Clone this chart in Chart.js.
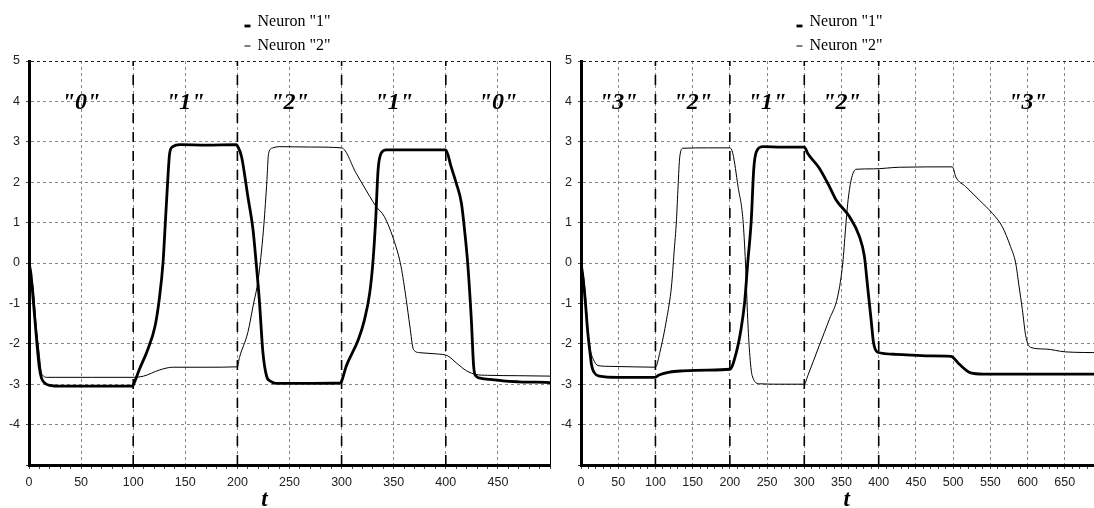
<!DOCTYPE html>
<html>
<head>
<meta charset="utf-8">
<script src="https://cdn.jsdelivr.net/npm/chart.js@4"></script>
<style>
  html, body { margin: 0; padding: 0; background: #fff; overflow: hidden; }
  #wrap { position: relative; width: 1094px; height: 508px; overflow: hidden; }
  #left { position: absolute; left: 0; top: 0; }
  #right { position: absolute; left: 552px; top: 0; }
</style>
</head>
<body>
<div id="wrap">
  <canvas id="left" width="556" height="508"></canvas>
  <canvas id="right" width="556" height="508"></canvas>
</div>
<script>
// ---- data ----
// left panel
var leftN1T = [0, 2, 4, 6, 8, 10, 12, 15, 20, 30, 60, 99, 100, 106, 114, 121, 125, 128.6, 131, 133, 135, 138, 145, 170, 199, 200, 204, 210, 215, 218, 221, 224.5, 228, 232, 237, 260, 299, 300, 304.5, 316, 322, 327, 330, 332.7, 335, 338, 343, 370, 400, 405, 410, 415, 418, 421, 424.5, 426.7, 429, 435, 442, 455, 470, 487, 500];
var leftN1V = [0, -0.3, -0.9, -1.5, -2.1, -2.6, -2.85, -2.97, -3.03, -3.05, -3.05, -3.05, -3.02, -2.63, -2.14, -1.56, -0.9, 0, 1.07, 1.98, 2.72, 2.88, 2.93, 2.92, 2.93, 2.9, 2.63, 1.65, 0.82, 0, -0.9, -2.22, -2.8, -2.93, -2.98, -2.98, -2.97, -2.93, -2.55, -1.9, -1.4, -0.74, 0, 1.07, 2.3, 2.72, 2.8, 2.8, 2.8, 2.39, 1.98, 1.48, 0.82, 0, -1.4, -2.55, -2.8, -2.86, -2.88, -2.92, -2.94, -2.95, -2.96];
var leftN2T = [0, 2, 4, 7, 9.6, 11.8, 14, 17, 25, 60, 99, 110, 125, 138, 170, 200, 202, 210, 215, 220, 225, 228, 230, 234, 240, 270, 300, 314, 327, 333, 341, 351, 357, 362, 365.5, 369, 375, 391, 402, 410, 420, 429, 440, 470, 500];
var leftN2V = [0, -0.4, -0.6, -1.6, -2.2, -2.7, -2.8, -2.83, -2.83, -2.83, -2.83, -2.8, -2.65, -2.58, -2.58, -2.57, -2.34, -1.72, -1.07, -0.4, 0.82, 1.9, 2.72, 2.85, 2.88, 2.87, 2.85, 2.22, 1.65, 1.4, 1.15, 0.5, -0.08, -0.9, -1.56, -2.14, -2.22, -2.25, -2.3, -2.47, -2.67, -2.76, -2.78, -2.79, -2.8];
var leftMarks = [100, 200, 300, 400];
var leftStates = ['"0"', '"1"', '"2"', '"1"', '"0"'];
var leftStateT = [50, 150, 250, 350, 450];
var leftTitleAt = 226;

// right panel
var rightN1T = [0, 3, 6, 9, 12, 14.3, 18, 25, 50, 100, 104, 119, 137, 170, 200, 208.7, 215, 219.8, 224, 228.8, 232, 235.5, 244, 270, 300, 304.7, 320, 333.8, 342.8, 360.6, 374, 380.7, 385, 389.7, 393, 398.5, 423, 468, 497, 508, 523.7, 540, 600, 700];
var rightN1V = [0, -0.4, -1.0, -1.7, -2.2, -2.54, -2.72, -2.8, -2.83, -2.83, -2.78, -2.7, -2.67, -2.65, -2.63, -2.21, -1.64, -0.98, 0, 1.07, 2.3, 2.75, 2.88, 2.87, 2.87, 2.71, 2.35, 1.89, 1.56, 1.15, 0.66, 0.17, -0.57, -1.39, -1.97, -2.21, -2.26, -2.3, -2.31, -2.5, -2.72, -2.75, -2.75, -2.75];
var rightN2T = [0, 3, 6, 9, 12, 16.5, 23, 43, 100, 106, 115, 121.6, 125, 128.3, 130.4, 132.7, 137, 170, 200, 204, 211, 217.6, 221, 224, 226.5, 230, 240, 270, 300, 304.7, 320, 333.8, 345, 351.7, 355.3, 358.4, 362.9, 369.6, 393, 427.6, 499, 503.6, 517, 535, 552.7, 566, 577, 584, 588.5, 593, 597.5, 604, 624, 651, 700];
var rightN2V = [0, -0.3, -0.8, -1.6, -2.1, -2.38, -2.54, -2.56, -2.58, -2.21, -1.39, -0.57, 0.25, 1.07, 1.89, 2.63, 2.84, 2.85, 2.85, 2.71, 1.89, 1.07, 0, -1.39, -2.21, -2.79, -2.99, -3.0, -3.0, -2.79, -2.05, -1.39, -0.82, 0, 0.82, 1.48, 2.05, 2.32, 2.33, 2.37, 2.38, 2.13, 1.89, 1.56, 1.23, 0.9, 0.41, 0, -0.57, -1.15, -1.8, -2.09, -2.13, -2.2, -2.22];
var rightMarks = [100, 200, 300, 400];
var rightStates = ['"3"', '"2"', '"1"', '"2"', '"3"'];
var rightStateT = [50, 150, 250, 350, 600];
var rightTitleAt = 357;

var yTicks = [5, 4, 3, 2, 1, 0, -1, -2, -3, -4];
var seriesNames = ['Neuron "1"', 'Neuron "2"'];
var axisTitle = "t";

function toPoints(ts, vs) {
    return ts.map(function (t, i) { return { x: t, y: vs[i] }; });
}

// legend drawn as two stacked rows above the plot
var stackedLegend = {
    id: "stackedLegend",
    afterDraw: function (chart) {
        var ctx = chart.ctx;
        var area = chart.chartArea;
        var items = chart.data.datasets.filter(function (d) { return d.isSeries; });
        ctx.save();
        ctx.font = '16px "Liberation Serif"';
        ctx.fillStyle = "#000";
        ctx.textBaseline = "middle";
        var textW = ctx.measureText(items[0].label).width;
        var x0 = (area.left + area.right) / 2 - (textW + 13) / 2 - 2;
        items.forEach(function (d, i) {
            var y = 22 + i * 24;
            ctx.strokeStyle = "#000";
            ctx.lineWidth = d.borderWidth;
            ctx.beginPath();
            var my = i === 0 ? y + 4 : y;
            ctx.moveTo(x0, my);
            ctx.lineTo(x0 + 6, my);
            ctx.stroke();
            ctx.fillText(d.label, x0 + 13, y);
        });
        ctx.restore();
    }
};

// state labels ("0", "1", ...) at the level y = 4 and the "t" axis name
var stateLabels = {
    id: "stateLabels",
    afterDatasetsDraw: function (chart, args, opts) {
        var ctx = chart.ctx;
        var xs = chart.scales.x;
        var ys = chart.scales.y;
        ctx.save();
        ctx.font = 'italic bold 24px "Liberation Serif"';
        ctx.fillStyle = "#000";
        ctx.textAlign = "center";
        ctx.textBaseline = "middle";
        opts.texts.forEach(function (txt, i) {
            ctx.fillText(txt, xs.getPixelForValue(opts.at[i]), ys.getPixelForValue(4) + 1);
        });
        ctx.font = 'italic bold 23px "Liberation Serif"';
        ctx.textBaseline = "alphabetic";
        ctx.fillText(axisTitle, xs.getPixelForValue(opts.titleAt), 506);
        ctx.restore();
    }
};

function makeChart(id, n1, n2, marks, states, stateT, titleAt, xMax, padRight) {
    var datasets = [
        {
            label: seriesNames[0],
            isSeries: true,
            data: n1,
            borderColor: "#000",
            borderWidth: 2.8,
            pointRadius: 0,
            cubicInterpolationMode: "monotone",
        },
        {
            label: seriesNames[1],
            isSeries: true,
            data: n2,
            borderColor: "#000",
            borderWidth: 1,
            pointRadius: 0,
            cubicInterpolationMode: "monotone",
        },
    ];
    marks.forEach(function (m) {
        datasets.push({
            label: "",
            data: [{ x: m, y: -5 }, { x: m, y: 5 }],
            borderColor: "#000",
            borderWidth: 1.6,
            borderDash: [10, 9],
            pointRadius: 0,
        });
    });

    return new Chart(document.getElementById(id), {
        type: "line",
        data: { datasets: datasets },
        options: {
            responsive: false,
            animation: false,
            layout: { padding: { top: 61, right: padRight, left: 0, bottom: 0 } },
            plugins: {
                legend: { display: false },
                tooltip: { enabled: false },
                stateLabels: { texts: states, at: stateT, titleAt: titleAt },
            },
            scales: {
                x: {
                    type: "linear",
                    min: 0,
                    max: xMax,
                    afterFit: function (s) { s.height = 43; },
                    ticks: {
                        stepSize: 10,
                        autoSkip: false,
                        maxRotation: 0,
                        includeBounds: false,
                        padding: 6,
                        color: "#222",
                        font: { family: "Liberation Sans", size: 12.5 },
                        callback: function (v) {
                            return v % 50 === 0 && v < xMax ? v : "";
                        },
                    },
                    grid: {
                        color: function (c) {
                            var v = c.tick ? c.tick.value : 0;
                            return v % 50 === 0 && v > 0 && v < xMax ? "#888" : "rgba(0,0,0,0)";
                        },
                        tickColor: "#444",
                        tickLength: 4,
                        lineWidth: 1,
                    },
                    border: { color: "#000", width: 3, dash: [3, 3] },
                },
                y: {
                    min: -5,
                    max: 5,
                    afterFit: function (s) { s.width = 29; },
                    ticks: {
                        stepSize: 1,
                        padding: 6,
                        color: "#222",
                        font: { family: "Liberation Sans", size: 12.5 },
                        callback: function (v) {
                            return yTicks.indexOf(v) >= 0 ? v : "";
                        },
                    },
                    grid: {
                        color: function (c) {
                            var v = c.tick ? c.tick.value : 0;
                            if (v === 5) return "#222";
                            if (v === -5) return "rgba(0,0,0,0)";
                            return "#888";
                        },
                        tickColor: "#444",
                        tickLength: 3,
                    },
                    border: { color: "#000", width: 3, dash: [3, 3] },
                },
                y2: {
                    position: "right",
                    min: -5,
                    max: 5,
                    afterFit: function (s) { s.width = 0; },
                    ticks: { display: false },
                    grid: { display: false },
                    border: { color: "#000", width: 1 },
                },
            },
        },
        plugins: [stackedLegend, stateLabels],
    });
}

makeChart("left", toPoints(leftN1T, leftN1V), toPoints(leftN2T, leftN2V), leftMarks, leftStates, leftStateT, leftTitleAt, 500, 6);
makeChart("right", toPoints(rightN1T, rightN1V), toPoints(rightN2T, rightN2V), rightMarks, rightStates, rightStateT, rightTitleAt, 700, 5);
</script>
</body>
</html>
